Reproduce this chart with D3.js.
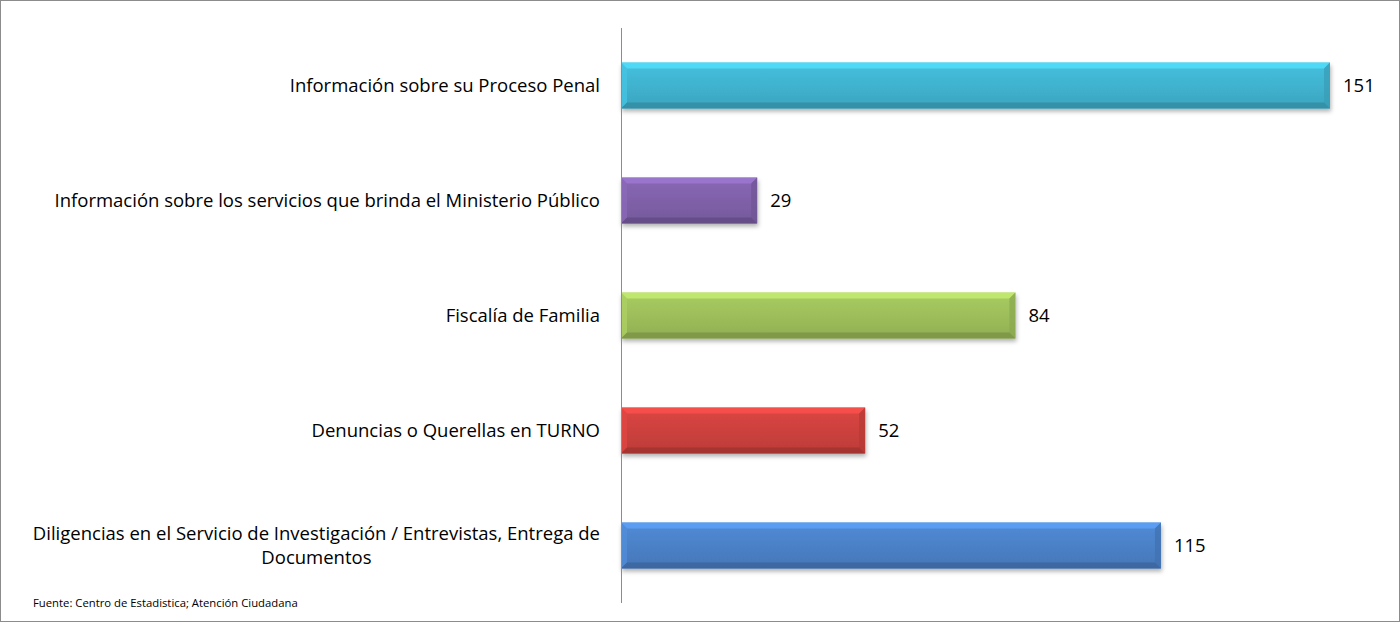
<!DOCTYPE html>
<html>
<head>
<meta charset="UTF-8">
<title>Atención Ciudadana</title>
<script src="https://cdn.jsdelivr.net/npm/d3@7"></script>
<style>
  body { margin: 0; background: #fff; }
  svg text { font-family: "Open Sans", sans-serif; fill: #000; }
</style>
</head>
<body>
<svg id="chart"></svg>
<script>
// data
const categories = [
  "Información sobre su Proceso Penal",
  "Información sobre los servicios que brinda el Ministerio Público",
  "Fiscalía de Familia",
  "Denuncias o Querellas en TURNO",
  "Diligencias en el Servicio de Investigación / Entrevistas, Entrega de|Documentos"
];
const values = [151, 29, 84, 52, 115];
const barColors = ["#3fb0cc", "#7d5fa6", "#9bbb59", "#c9403c", "#4a7fc4"];
const source = "Fuente: Centro de Estadistica; Atención Ciudadana";

const width = 1400, height = 622;
const svg = d3.select("#chart").attr("width", width).attr("height", height);

// outer border
svg.append("rect")
  .attr("x", 0.5).attr("y", 0.5)
  .attr("width", width - 1).attr("height", height - 1)
  .attr("fill", "#fff").attr("stroke", "#8c8c8c");

const x0 = 621;
const x = d3.scaleLinear().domain([0, 151]).range([x0, 1330]);
const y = d3.scaleBand().domain(d3.range(categories.length))
  .range([28, 603]).paddingInner(0.6).paddingOuter(0.3);

const defs = svg.append("defs");
const shadow = defs.append("filter").attr("id", "shadow")
  .attr("x", "-5%").attr("y", "-20%").attr("width", "110%").attr("height", "160%");
shadow.append("feDropShadow").attr("dx", 1).attr("dy", 3).attr("stdDeviation", 2)
  .attr("flood-color", "#000").attr("flood-opacity", 0.3);

barColors.forEach((c, i) => {
  const g = defs.append("linearGradient").attr("id", "grad" + i)
    .attr("x1", 0).attr("y1", 0).attr("x2", 0).attr("y2", 1);
  const base = d3.color(c);
  g.append("stop").attr("offset", "0%").attr("stop-color", base.brighter(0.25));
  g.append("stop").attr("offset", "60%").attr("stop-color", base);
  g.append("stop").attr("offset", "100%").attr("stop-color", base.darker(0.2));
});

const bars = svg.append("g").selectAll("g.bar")
  .data(values)
  .join("g").attr("class", "bar");

const bv = 6; // bevel size

bars.each(function(v, i) {
  const g = d3.select(this);
  const x1 = x0, x2 = x(v), y1 = y(i), y2 = y(i) + y.bandwidth();
  const base = d3.color(barColors[i]);
  g.append("rect")
    .attr("x", x1).attr("y", y1)
    .attr("width", x2 - x1).attr("height", y2 - y1)
    .attr("fill", `url(#grad${i})`)
    .attr("filter", "url(#shadow)");
  // bevel faces
  const faces = [
    { pts: [[x1, y1], [x2, y1], [x2 - bv, y1 + bv], [x1 + bv, y1 + bv]], col: base.brighter(0.7) },
    { pts: [[x1, y1], [x1 + bv, y1 + bv], [x1 + bv, y2 - bv], [x1, y2]], col: base.brighter(0.3) },
    { pts: [[x2, y1], [x2, y2], [x2 - bv, y2 - bv], [x2 - bv, y1 + bv]], col: base.darker(0.3) },
    { pts: [[x1, y2], [x1 + bv, y2 - bv], [x2 - bv, y2 - bv], [x2, y2]], col: base.darker(0.7) }
  ];
  faces.forEach(f => {
    g.append("polygon")
      .attr("points", f.pts.map(p => p.join(",")).join(" "))
      .attr("fill", f.col).attr("opacity", 0.75);
  });
});

// value labels
svg.append("g").selectAll("text")
  .data(values)
  .join("text")
  .attr("x", d => x(d) + 13)
  .attr("y", (d, i) => y(i) + y.bandwidth() / 2)
  .attr("dy", "0.35em")
  .attr("font-size", 18.5)
  .text(d => d);

// axis line
svg.append("line")
  .attr("x1", x0 + 0.5).attr("x2", x0 + 0.5)
  .attr("y1", 28).attr("y2", 603)
  .attr("stroke", "#8c8c8c");

// category labels, multi-line ones centred in their own block
const labelRight = 600;
const labels = svg.append("g");
categories.forEach((c, i) => {
  const lines = c.split("|");
  const t = labels.append("text").attr("font-size", 18.5);
  const cy = y(i) + y.bandwidth() / 2;
  const lh = 24;
  lines.forEach((l, k) => {
    t.append("tspan").attr("y", cy + (k - (lines.length - 1) / 2) * lh).attr("dy", "0.35em").text(l);
  });
  const tspans = t.selectAll("tspan").nodes();
  const maxW = d3.max(tspans, n => n.getComputedTextLength());
  if (lines.length === 1) {
    t.attr("text-anchor", "end");
    t.selectAll("tspan").attr("x", labelRight);
  } else {
    t.attr("text-anchor", "middle");
    t.selectAll("tspan").attr("x", labelRight - maxW / 2);
  }
});

// source note
svg.append("text")
  .attr("x", 33).attr("y", 607)
  .attr("font-size", 11.3)
  .text(source);
</script>
</body>
</html>
